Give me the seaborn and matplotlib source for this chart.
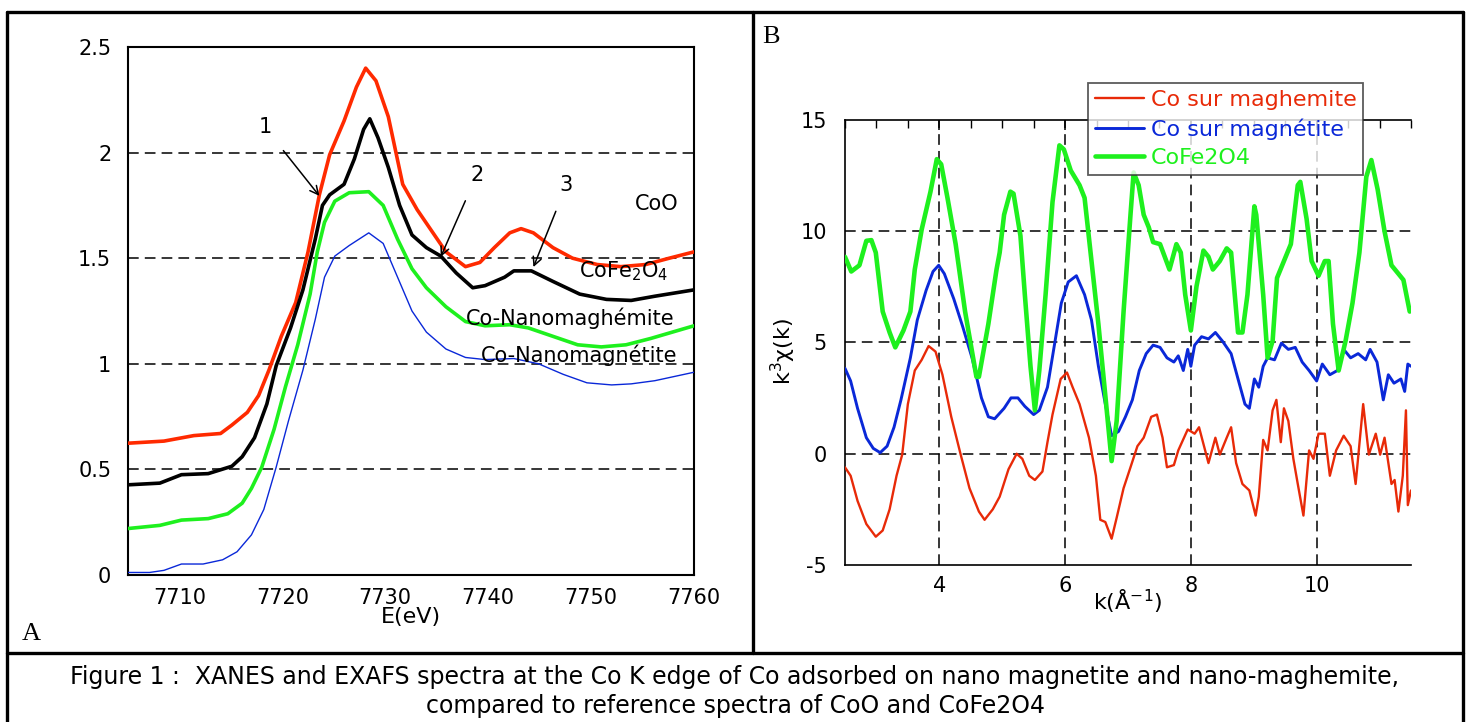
import numpy as np
import pandas as pd
import matplotlib
matplotlib.use("Agg")
import matplotlib.pyplot as plt
import seaborn as sns
from matplotlib.lines import Line2D
from matplotlib.ticker import MultipleLocator

# XANES (panel A): energy in eV, normalised absorption
e_coo = [7705, 7708.5, 7711.4, 7714.0, 7715.1, 7716.6, 7717.7, 7718.7, 7719.9, 7721.3,
         7722.5, 7723.6, 7724.6, 7726.0, 7727.2, 7728.1, 7729.1, 7730.3, 7731.7, 7733.1,
         7734.5, 7735.9, 7737.8, 7739.2, 7740.6, 7742.1, 7743.2, 7744.4, 7746.3, 7748.2,
         7750.6, 7752.9, 7755.3, 7757.6, 7760]
mu_coo = [0.624, 0.634, 0.660, 0.670, 0.71, 0.77, 0.85, 0.97, 1.13, 1.29,
          1.53, 1.80, 1.99, 2.15, 2.31, 2.40, 2.34, 2.17, 1.85, 1.73,
          1.63, 1.53, 1.46, 1.48, 1.55, 1.62, 1.64, 1.62, 1.55, 1.50,
          1.47, 1.46, 1.47, 1.50, 1.53]

e_cofe = [7705, 7708.1, 7710.2, 7712.8, 7715.1, 7716.1, 7717.3, 7718.5, 7719.4, 7720.8,
          7722.0, 7723.2, 7723.9, 7724.6, 7726.0, 7727.0, 7727.9, 7728.5, 7729.3, 7730.3,
          7731.4, 7732.6, 7734.0, 7735.4, 7736.9, 7738.5, 7739.7, 7741.6, 7742.5, 7744.2,
          7746.3, 7748.9, 7751.5, 7753.9, 7756.2, 7760]
mu_cofe = [0.427, 0.435, 0.475, 0.48, 0.515, 0.56, 0.65, 0.81, 0.99, 1.17,
           1.35, 1.59, 1.75, 1.80, 1.85, 1.97, 2.11, 2.16, 2.07, 1.93,
           1.75, 1.61, 1.55, 1.51, 1.43, 1.36, 1.37, 1.41, 1.44, 1.44,
           1.39, 1.33, 1.305, 1.30, 1.32, 1.35]

e_mgh = [7705, 7708.1, 7710.2, 7712.8, 7714.7, 7716.1, 7717.0, 7718.0, 7719.2, 7720.3,
         7721.5, 7722.7, 7723.4, 7724.1, 7725.1, 7726.5, 7728.4, 7729.8, 7731.2, 7732.6,
         7734.0, 7735.9, 7737.8, 7739.7, 7742.1, 7743.9, 7746.3, 7748.7, 7751.0, 7753.4,
         7755.8, 7760]
mu_mgh = [0.22, 0.235, 0.26, 0.267, 0.29, 0.34, 0.41, 0.51, 0.69, 0.89,
          1.09, 1.33, 1.53, 1.67, 1.77, 1.81, 1.815, 1.75, 1.59, 1.45,
          1.36, 1.27, 1.20, 1.18, 1.185, 1.17, 1.13, 1.09, 1.08, 1.09,
          1.12, 1.18]

e_mgt = [7705, 7707.1, 7708.5, 7710.2, 7712.3, 7714.2, 7715.6, 7717.0, 7718.2, 7719.4,
         7720.6, 7722.0, 7723.2, 7724.1, 7725.1, 7726.5, 7728.4, 7729.8, 7731.2, 7732.6,
         7734.0, 7735.9, 7737.8, 7739.7, 7742.5, 7744.9, 7747.3, 7749.6, 7752.0, 7753.9,
         7756.2, 7760]
mu_mgt = [0.012, 0.012, 0.022, 0.052, 0.052, 0.072, 0.11, 0.19, 0.31, 0.51,
          0.73, 0.97, 1.21, 1.41, 1.51, 1.56, 1.62, 1.57, 1.41, 1.25,
          1.15, 1.07, 1.03, 1.02, 1.025, 1.00, 0.95, 0.91, 0.90, 0.905,
          0.92, 0.96]

# EXAFS (panel B): k in 1/A, k^3 chi(k)
k_cofe = [2.5, 2.60, 2.73, 2.84, 2.92, 2.99, 3.10, 3.21, 3.30, 3.43, 3.54, 3.61, 3.72, 3.86,
          3.96, 4.03, 4.13, 4.26, 4.41, 4.59, 4.63, 4.78, 4.91, 4.96, 5.03, 5.13, 5.18, 5.29,
          5.36, 5.45, 5.52, 5.59, 5.69, 5.80, 5.91, 5.98, 6.09, 6.23, 6.31, 6.42, 6.53, 6.64,
          6.74, 6.82, 6.93, 7.04, 7.09, 7.17, 7.25, 7.33, 7.40, 7.51, 7.66, 7.77, 7.84, 7.91,
          8.00, 8.09, 8.20, 8.28, 8.35, 8.46, 8.57, 8.64, 8.75, 8.82, 8.90, 9.01, 9.04, 9.15,
          9.22, 9.30, 9.37, 9.48, 9.59, 9.70, 9.74, 9.84, 9.92, 10.03, 10.13, 10.19, 10.26,
          10.35, 10.46, 10.57, 10.68, 10.79, 10.87, 10.97, 11.08, 11.19, 11.30, 11.38, 11.48]
chi_cofe = [8.85, 8.19, 8.47, 9.57, 9.6, 9.04, 6.39, 5.45, 4.78, 5.54, 6.39, 8.28, 10.08, 11.78,
            13.24, 13.01, 11.5, 9.42, 6.39, 3.46, 3.46, 5.83, 8.28, 9.04, 10.74, 11.78, 11.69, 9.8,
            7.15, 3.93, 1.95, 3.74, 7.15, 11.31, 13.86, 13.68, 12.73, 12.07, 11.5, 8.66, 5.82, 2.61,
            -0.33, 1.47, 6.39, 10.74, 12.64, 12.07, 10.74, 10.18, 9.51, 9.42, 8.28, 9.42, 9.04, 7.15,
            5.54, 7.53, 9.13, 8.85, 8.28, 8.66, 9.23, 9.04, 5.45, 5.45, 7.15, 11.12, 10.74, 7.15,
            4.31, 5.07, 7.90, 8.66, 9.42, 12.07, 12.22, 10.56, 8.66, 8.0, 8.66, 8.66, 5.83,
            3.74, 5.07, 6.77, 9.04, 12.45, 13.2, 11.88, 9.99, 8.47, 8.09, 7.81, 6.39]

k_mgt = [2.5, 2.59, 2.70, 2.84, 2.95, 3.06, 3.17, 3.28, 3.39, 3.54, 3.65, 3.79, 3.90, 3.99,
         4.08, 4.23, 4.37, 4.52, 4.67, 4.78, 4.88, 5.03, 5.14, 5.25, 5.36, 5.50, 5.59, 5.72,
         5.83, 5.94, 6.05, 6.18, 6.31, 6.42, 6.53, 6.64, 6.74, 6.85, 6.96, 7.07, 7.18, 7.29,
         7.40, 7.51, 7.62, 7.73, 7.80, 7.88, 7.95, 8.00, 8.06, 8.17, 8.28, 8.39, 8.50, 8.64,
         8.75, 8.86, 8.93, 9.01, 9.08, 9.15, 9.22, 9.33, 9.44, 9.55, 9.66, 9.77, 9.88, 10.0,
         10.09, 10.21, 10.33, 10.43, 10.54, 10.66, 10.78, 10.85, 10.96, 11.06, 11.14, 11.23,
         11.34, 11.40, 11.45, 11.5]
chi_mgt = [3.84, 3.27, 2.04, 0.72, 0.24, 0.05, 0.34, 1.19, 2.42, 4.31, 6.01, 7.34, 8.19, 8.47,
           8.09, 6.96, 5.73, 4.31, 2.51, 1.66, 1.57, 2.04, 2.51, 2.51, 2.13, 1.76, 1.95, 2.99,
           4.88, 6.77, 7.72, 8.0, 7.15, 6.01, 3.93, 2.23, 0.81, 1.0, 1.66, 2.42, 3.74, 4.5,
           4.88, 4.78, 4.31, 4.12, 4.40, 3.74, 4.69, 3.93, 4.88, 5.26, 5.16, 5.45, 5.07, 4.50,
           3.36, 2.23, 2.04, 3.36, 2.99, 3.93, 4.31, 4.22, 4.97, 4.69, 4.78, 4.12, 3.74, 3.27,
           4.03, 3.55, 3.74, 4.69, 4.31, 4.50, 4.22, 4.69, 4.12, 2.42, 3.55, 3.17,
           3.36, 2.80, 4.03, 3.93]

k_mgh = [2.5, 2.59, 2.70, 2.84, 2.99, 3.10, 3.21, 3.32, 3.41, 3.50, 3.61, 3.72, 3.83, 3.94,
         4.05, 4.19, 4.34, 4.48, 4.63, 4.72, 4.85, 4.96, 5.10, 5.23, 5.32, 5.43, 5.52, 5.64,
         5.72, 5.80, 5.93, 6.03, 6.12, 6.23, 6.38, 6.49, 6.56, 6.64, 6.74, 6.82, 6.93, 7.04,
         7.15, 7.25, 7.37, 7.46, 7.55, 7.62, 7.73, 7.80, 7.95, 8.06, 8.13, 8.28, 8.39, 8.46,
         8.57, 8.64, 8.72, 8.82, 8.93, 9.03, 9.08, 9.15, 9.22, 9.30, 9.36, 9.43, 9.48, 9.55,
         9.63, 9.70, 9.79, 9.88, 9.95, 10.03, 10.13, 10.21, 10.31, 10.43, 10.54, 10.62, 10.74,
         10.83, 10.94, 11.01, 11.08, 11.19, 11.24, 11.30, 11.37, 11.42, 11.45, 11.5]
chi_mgh = [-0.61, -0.99, -2.12, -3.16, -3.73, -3.45, -2.50, -0.99, -0.04, 2.23, 3.74, 4.22, 4.84, 4.59,
           3.55, 1.66, -0.04, -1.55, -2.60, -2.97, -2.50, -1.93, -0.70, 0.0, -0.23, -0.99, -1.18, -0.80,
           0.52, 1.76, 3.36, 3.65, 2.99, 2.23, 0.72, -0.99, -2.97, -3.07, -3.82, -2.88, -1.55, -0.61,
           0.34, 0.72, 1.66, 1.76, 0.72, -0.61, -0.51, 0.15, 1.09, 0.90, 1.19, -0.42, 0.72, -0.04,
           0.72, 1.19, -0.42, -1.36, -1.65, -2.78, -1.93, 0.62, 0.15, 1.95, 2.42, 0.52, 2.04, 1.47,
           -0.23, -1.36, -2.78, 0.15, -0.23, 0.90, 0.90, -0.99, 0.15, 0.81, 0.34, -1.36, 2.23,
           -0.04, 0.90, -0.04, 0.72, -1.36, -1.18, -2.60, -0.99, 1.95, -2.31, -1.65]

RED = "#ff2a00"
RED_B = "#e82a08"
BLUE = "#0a28d8"
GREEN = "#1ef01e"

sns.set_style("white")
plt.rcParams['font.family'] = ['DejaVu Sans']
plt.rcParams['text.color'] = 'black'
plt.rcParams['axes.labelcolor'] = 'black'
plt.rcParams['axes.unicode_minus'] = False

fig = plt.figure(figsize=(14.69, 7.22), dpi=100)
axA = fig.add_axes([0.0871, 0.2036, 0.3853, 0.7313])
axB = fig.add_axes([0.5752, 0.2175, 0.3853, 0.6163])

dash = (0, (7, 4))

# ---------------- panel A ----------------
for yv in [0.5, 1.0, 1.5, 2.0]:
    axA.axhline(yv, color="black", lw=1.1, ls=dash, zorder=1)
sns.lineplot(x=e_coo, y=mu_coo, ax=axA, color=RED, lw=2.6, zorder=3)
sns.lineplot(x=e_cofe, y=mu_cofe, ax=axA, color="black", lw=2.6, zorder=4)
sns.lineplot(x=e_mgh, y=mu_mgh, ax=axA, color=GREEN, lw=2.6, zorder=3)
sns.lineplot(x=e_mgt, y=mu_mgt, ax=axA, color=BLUE, lw=1.0, zorder=3)
axA.set_xlim(7705, 7760)
axA.set_ylim(0, 2.5)
axA.xaxis.set_major_locator(MultipleLocator(10))
axA.xaxis.set_minor_locator(MultipleLocator(2))
axA.yaxis.set_minor_locator(MultipleLocator(0.1))
axA.set_yticks([0, 0.5, 1, 1.5, 2, 2.5])
axA.set_yticklabels(["0", "0.5", "1", "1.5", "2", "2.5"])
axA.tick_params(axis="both", which="both", direction="in", labelsize=15, colors="black")
axA.tick_params(axis="y", which="major", length=7, width=1.3, pad=12)
axA.tick_params(axis="y", which="minor", length=6, width=1.0)
axA.tick_params(axis="x", which="major", length=7, width=1.3, pad=9)
axA.tick_params(axis="x", which="minor", length=6, width=1.0)
axA.set_xlabel("E(eV)", fontsize=16)
axA.xaxis.set_label_coords(0.5, -0.06)
axA.set_ylabel("")
for sp in axA.spines.values():
    sp.set_color("black")
    sp.set_linewidth(1.5)

lab = dict(fontsize=15, color="black")
arr = dict(arrowstyle="->", color="black", lw=1.1, shrinkA=10, shrinkB=0)
axA.annotate("1", xy=(7723.6, 1.795), xytext=(7718.3, 2.12), ha="center", va="center",
             arrowprops=arr, **lab)
axA.annotate("2", xy=(7735.4, 1.507), xytext=(7738.9, 1.895), ha="center", va="center",
             arrowprops=arr, **lab)
axA.annotate("3", xy=(7744.4, 1.458), xytext=(7747.6, 1.846), ha="center", va="center",
             arrowprops=arr, **lab)
axA.text(7756.4, 1.757, "CoO", ha="center", va="center", **lab)
axA.text(7748.8, 1.44, "CoFe$_{\\mathregular{2}}$O$_{\\mathregular{4}}$", ha="left", va="center", **lab)
axA.text(7748.0, 1.214, "Co-Nanomaghémite", ha="center", va="center", **lab)
axA.text(7748.8, 1.039, "Co-Nanomagnétite", ha="center", va="center", **lab)

# ---------------- panel B ----------------
sns.lineplot(x=k_mgh, y=chi_mgh, ax=axB, color=RED_B, lw=1.7, label="Co sur maghemite", zorder=3)
sns.lineplot(x=k_mgt, y=chi_mgt, ax=axB, color=BLUE, lw=2.1, label="Co sur magnétite", zorder=3)
sns.lineplot(x=k_cofe, y=chi_cofe, ax=axB, color=GREEN, lw=3.3, label="CoFe2O4", zorder=3)
axB.set_xlim(2.5, 11.5)
axB.set_ylim(-5, 15)
axB.xaxis.set_major_locator(MultipleLocator(2))
axB.xaxis.set_minor_locator(MultipleLocator(0.5))
axB.yaxis.set_major_locator(MultipleLocator(5))
axB.yaxis.set_minor_locator(MultipleLocator(1))
for xv in [4, 6, 8, 10]:
    axB.axvline(xv, color="black", lw=1.1, ls=dash, zorder=1)
for yv in [0, 5, 10]:
    axB.axhline(yv, color="black", lw=1.1, ls=dash, zorder=1)
axB.tick_params(axis="both", which="both", direction="in", labelsize=15, colors="black",
                top=True)
axB.tick_params(axis="y", which="major", length=7, width=1.1, pad=13)
axB.tick_params(axis="y", which="minor", length=6, width=1.0)
axB.tick_params(axis="x", which="major", length=7, width=1.1, pad=8)
axB.tick_params(axis="x", which="minor", length=6, width=1.0)
axB.spines["right"].set_visible(False)
for s in ["left", "bottom", "top"]:
    axB.spines[s].set_color("black")
    axB.spines[s].set_linewidth(1.2)
axB.set_xlabel("k(Å$^{\\mathregular{-1}}$)", fontsize=16)
axB.set_ylabel("k$^{\\mathregular{3}}$χ(k)", fontsize=16)
axB.xaxis.set_label_coords(0.5, -0.05)
axB.yaxis.set_label_coords(-0.083, 0.48)

leg = axB.legend(loc="upper left", bbox_to_anchor=(0.43, 1.083), fontsize=16, frameon=True,
                 fancybox=False, handlelength=2.2, handletextpad=0.3, borderpad=0.3,
                 labelspacing=0.38, borderaxespad=0)
leg.get_frame().set_edgecolor("#333333")
leg.get_frame().set_linewidth(1.3)
for txt, line in zip(leg.get_texts(), leg.get_lines()):
    txt.set_color(line.get_color())
leg.set_zorder(10)

# ---------------- frame and captions ----------------
W, H = 1469.0, 722.0
def fx(px): return px / W
def fy(py): return 1 - py / H
frame = dict(color="black", lw=2.4, transform=fig.transFigure)
fig.add_artist(Line2D([fx(7), fx(1463)], [fy(12), fy(12)], **frame))
fig.add_artist(Line2D([fx(7), fx(7)], [fy(12), fy(722)], **frame))
fig.add_artist(Line2D([fx(1463), fx(1463)], [fy(12), fy(722)], **frame))
fig.add_artist(Line2D([fx(753), fx(753)], [fy(12), fy(653)], **frame))
fig.add_artist(Line2D([fx(7), fx(1463)], [fy(653), fy(653)], **frame))

fig.text(fx(31), fy(634), "A", fontsize=19, family=["Liberation Serif", "DejaVu Serif"],
         ha="center", va="center")
fig.text(fx(771), fy(37), "B", fontsize=19, family=["Liberation Serif", "DejaVu Serif"],
         ha="center", va="center")

cap = dict(fontsize=17, family=["DejaVu Sans"], ha="center", va="center", color="black")
fig.text(fx(735), fy(677), "Figure 1 :  XANES and EXAFS spectra at the Co K edge of Co adsorbed on nano magnetite and nano-maghemite,", **cap)
fig.text(fx(735), fy(706), "compared to reference spectra of CoO and CoFe2O4", **cap)

fig.savefig("out.png", dpi=100)
